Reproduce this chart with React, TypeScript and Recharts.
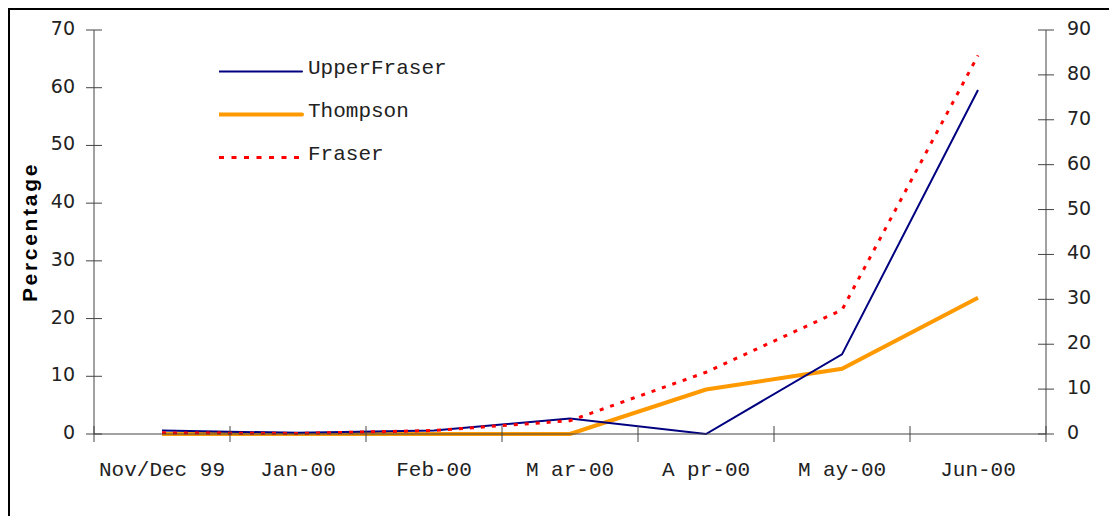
import { LineChart, Line, XAxis, YAxis, Legend } from 'recharts';

const months = ['Nov/Dec 99', 'Jan-00', 'Feb-00', 'M ar-00', 'A pr-00', 'M ay-00', 'Jun-00'];
const upperFraser = [0.6, 0.2, 0.6, 2.7, 0, 13.8, 59.6];
const thompson = [0, 0, 0, 0, 7.7, 11.3, 23.6];
const fraser = [0.2, 0.1, 0.6, 2.3, 10.7, 21.5, 65.6];
const leftTicks = [0, 10, 20, 30, 40, 50, 60, 70];
const rightTicks = [0, 10, 20, 30, 40, 50, 60, 70, 80, 90];

const data = months.map((m, i) => ({
  month: m,
  upper: upperFraser[i],
  thompson: thompson[i],
  fraser: fraser[i],
}));

const AXIS = '#444';
const MONO = '"Liberation Mono", "Courier New", monospace';
const SANS = '"DejaVu Sans", Verdana, sans-serif';

function LeftTick({ x, y, payload }: any) {
  return (
    <g>
      <line x1={x + 11} x2={x + 27} y1={y} y2={y} stroke={AXIS} />
      <text x={x} y={y} dy={5} textAnchor="end" fontFamily={SANS} fontSize={19} fill="#222">
        {payload.value}
      </text>
    </g>
  );
}

function RightTick({ x, y, payload }: any) {
  return (
    <g>
      <line x1={x - 29} x2={x - 13} y1={y} y2={y} stroke={AXIS} />
      <text x={x} y={y} dy={5} textAnchor="start" fontFamily={SANS} fontSize={19} fill="#222">
        {payload.value}
      </text>
    </g>
  );
}

function MonthTick({ x, y, payload, index }: any) {
  const half = payload.offset || 68;
  return (
    <g>
      <line x1={x - half} x2={x - half} y1={y - 8} y2={y + 8} stroke={AXIS} />
      {index === months.length - 1 && (
        <line x1={x + half} x2={x + half} y1={y - 8} y2={y + 8} stroke={AXIS} />
      )}
      <text x={x} y={y + 42} textAnchor="middle" fontFamily={MONO} fontSize={21} fill="#222">
        {payload.value}
      </text>
    </g>
  );
}

function LegendBox() {
  const rows = [
    { name: 'UpperFraser', color: '#000080', width: 2, dash: undefined },
    { name: 'Thompson', color: '#FF9900', width: 4, dash: undefined },
    { name: 'Fraser', color: '#FF0000', width: 3, dash: '5 7.5' },
  ];
  return (
    <div>
      {rows.map((r) => (
        <div key={r.name} style={{ display: 'flex', alignItems: 'center', height: 43 }}>
          <svg width={89} height={43}>
            <line
              x1={0}
              x2={83}
              y1={21.5}
              y2={21.5}
              stroke={r.color}
              strokeWidth={r.width}
              strokeDasharray={r.dash}
              strokeLinecap={r.dash ? 'butt' : 'round'}
            />
          </svg>
          <span style={{ fontFamily: MONO, fontSize: 21, color: '#222', marginTop: -6 }}>{r.name}</span>
        </div>
      ))}
    </div>
  );
}

function YTitle({ viewBox }: any) {
  const cx = viewBox.x + 19;
  const cy = viewBox.y + viewBox.height / 2;
  return (
    <text
      x={cx}
      y={cy}
      transform={`rotate(-90 ${cx} ${cy})`}
      textAnchor="middle"
      dominantBaseline="central"
      fontFamily='"Liberation Sans", Arial, sans-serif'
      fontWeight="bold"
      fontSize={21}
      letterSpacing={2.7}
      fill="#000"
    >
      Percentage
    </text>
  );
}

export default function App() {
  return (
    <div style={{ width: 1110, height: 520, border: '2px solid #000', background: '#fff' }}>
      <LineChart width={1110} height={505} data={data} margin={{ top: 20, right: 0, bottom: 41, left: 0 }}>
        <XAxis
          dataKey="month"
          scale="band"
          stroke={AXIS}
          tickLine={false}
          tickSize={0}
          tickMargin={0}
          height={40}
          tick={<MonthTick />}
          interval={0}
        />
        <YAxis
          yAxisId="left"
          type="number"
          domain={[0, 70]}
          ticks={leftTicks}
          width={84}
          stroke={AXIS}
          tickLine={false}
          tickSize={0}
          tickMargin={19}
          tick={<LeftTick />}
          interval={0}
          label={<YTitle />}
        />
        <YAxis
          yAxisId="right"
          type="number"
          orientation="right"
          domain={[0, 90]}
          allowDataOverflow
          ticks={rightTicks}
          width={74}
          stroke={AXIS}
          tickLine={false}
          tickSize={0}
          tickMargin={21}
          tick={<RightTick />}
          interval={0}
        />
        <Legend
          layout="vertical"
          align="center"
          verticalAlign="middle"
          wrapperStyle={{ top: 40, left: 209, width: 320 }}
          content={<LegendBox />}
        />
        <Line
          yAxisId="left"
          dataKey="thompson"
          stroke="#FF9900"
          strokeWidth={4}
          dot={false}
          isAnimationActive={false}
        />
        <Line
          yAxisId="left"
          dataKey="upper"
          stroke="#000080"
          strokeWidth={2}
          dot={false}
          isAnimationActive={false}
        />
        <Line
          yAxisId="left"
          dataKey="fraser"
          stroke="#FF0000"
          strokeWidth={3}
          strokeDasharray="4 7"
          dot={false}
          isAnimationActive={false}
        />
      </LineChart>
    </div>
  );
}
